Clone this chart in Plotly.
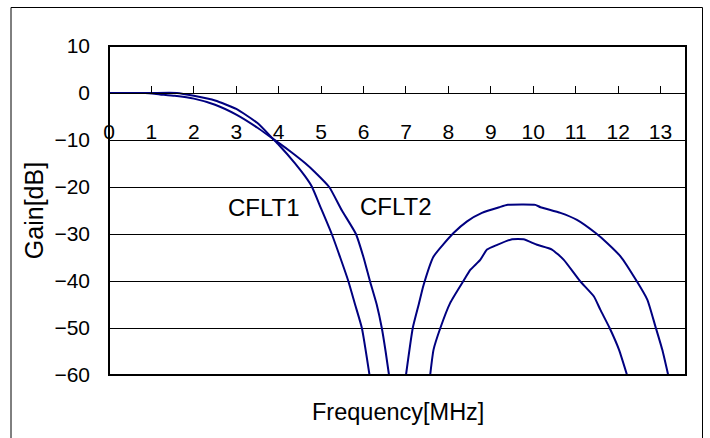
import plotly.graph_objects as go

# ---- data ----
cflt1_freq = [0, 0.5, 1.0, 1.6, 2.0, 2.5, 3.0, 3.5, 3.87, 4.0, 4.38, 4.62, 4.78, 5.0, 5.25, 5.45, 5.64, 5.8, 5.96, 6.14,
              None,
              7.0, 7.16, 7.3, 7.41, 7.65, 8.12, 8.44, 8.79, 9.2, 9.4, 10.05, 10.17, 10.64, 11.03, 11.47, 11.74, 12.06,
              12.43, 12.69, 12.88, 13.04, 13.18]
cflt1_gain = [0, 0, 0, 0, -0.6, -1.6, -3.4, -6.4, -9.8, -11.0, -14.9, -17.7, -19.9, -24.6, -30, -35, -40, -45, -50, -60,
              None,
              -60, -50, -45, -41, -34.8, -29.8, -27.3, -25.5, -24.3, -23.8, -23.8, -24.3, -25.5, -27.0, -29.8, -31.9,
              -34.8, -39.9, -44.0, -49.7, -54.6, -60]

cflt2_freq = [0, 0.5, 0.85, 1.2, 1.55, 2.0, 2.5, 3.0, 3.5, 3.87, 4.0, 4.3, 4.62, 4.85, 5.19, 5.49, 5.82, 6.0, 6.15, 6.31,
              6.43, 6.52, 6.6,
              None,
              7.57, 7.65, 7.81, 8.04, 8.36, 8.52, 8.75, 8.91, 9.15, 9.5, 9.77, 10.09, 10.44, 10.72, 11.1, 11.43, 11.58,
              11.8, 12.02, 12.21]
cflt2_gain = [0, 0, 0, -0.3, -0.6, -1.2, -2.5, -4.6, -7.4, -9.8, -10.6, -12.6, -14.9, -16.8, -20, -25, -30, -35, -40, -45,
              -50, -55, -60,
              None,
              -60, -54.6, -50, -44.7, -39.9, -37.6, -35.5, -33.3, -32.3, -31.1, -31.1, -32.3, -33.3, -35.5, -40, -43.3,
              -46.1, -50, -54.6, -60]

x_ticks = list(range(0, 14))
y_ticks = list(range(-60, 11, 10))
labels = ["CFLT1", "CFLT2"]
label_pos = [(3.65, -24.4), (6.77, -24.2)]

# ---- layout geometry (pixels) ----
W, H = 710, 438
ML, MR, MT, MB = 109, 24, 46, 63
PW, PH = W - ML - MR, H - MT - MB

def px_x(px):
    return (px - ML) / PW

def px_y(py):
    return (H - MB - py) / PH

FONT = "Liberation Sans, Arial, sans-serif"
LINE = "#000080"

fig = go.Figure()
fig.add_trace(go.Scatter(x=cflt1_freq, y=cflt1_gain, mode="lines", name="CFLT1",
                         line=dict(color=LINE, width=2, shape="spline", smoothing=0.5), connectgaps=False))
fig.add_trace(go.Scatter(x=cflt2_freq, y=cflt2_gain, mode="lines", name="CFLT2",
                         line=dict(color=LINE, width=2, shape="spline", smoothing=0.5), connectgaps=False))

for txt, (fx, gy) in zip(labels, label_pos):
    fig.add_annotation(x=fx, y=gy, text=txt, showarrow=False, xanchor="center", yanchor="middle",
                       font=dict(family=FONT, size=24, color="black"))

# x-axis title (axis itself crosses at 0 dB)
fig.add_annotation(xref="paper", yref="paper", x=0.5, y=px_y(412), text="Frequency[MHz]",
                   showarrow=False, xanchor="center", yanchor="middle",
                   font=dict(family=FONT, size=23.5, color="black"))

# plot-area frame
fig.add_shape(type="rect", xref="x domain", yref="y domain", x0=0, x1=1, y0=0, y1=1,
              line=dict(color="black", width=2), layer="above")
# outer chart border (bottom edge lies outside the picture)
fig.add_shape(type="rect", xref="paper", yref="paper",
              x0=px_x(11), x1=px_x(702.5), y0=px_y(442), y1=px_y(7.5),
              line=dict(color="black", width=1))

fig.update_layout(
    width=W, height=H,
    margin=dict(l=ML, r=MR, t=MT, b=MB),
    paper_bgcolor="white", plot_bgcolor="white",
    showlegend=False,
    font=dict(family=FONT, color="black"),
    xaxis=dict(range=[0, 13.6], tickvals=x_ticks, ticktext=[str(v) for v in x_ticks],
               anchor="free", position=60 / 70,
               showline=True, linecolor="black", linewidth=1,
               ticks="inside", ticklen=7, tickcolor="black", tickwidth=1,
               ticklabelstandoff=20,
               showgrid=False, zeroline=False,
               tickfont=dict(family=FONT, size=21, color="black")),
    yaxis=dict(range=[-60, 10], tickvals=y_ticks, ticktext=[str(v).replace("-", "\u2212") for v in y_ticks],
               showgrid=True, gridcolor="black", gridwidth=1, zeroline=False,
               showline=False, ticks="", ticklabelstandoff=18,
               tickfont=dict(family=FONT, size=21, color="black"),
               title=dict(text="Gain[dB]", standoff=3, font=dict(family=FONT, size=25, color="black"))),
)

fig.write_html("out.html", config={"displayModeBar": False},
               post_script="document.body.style.margin='0px';")
